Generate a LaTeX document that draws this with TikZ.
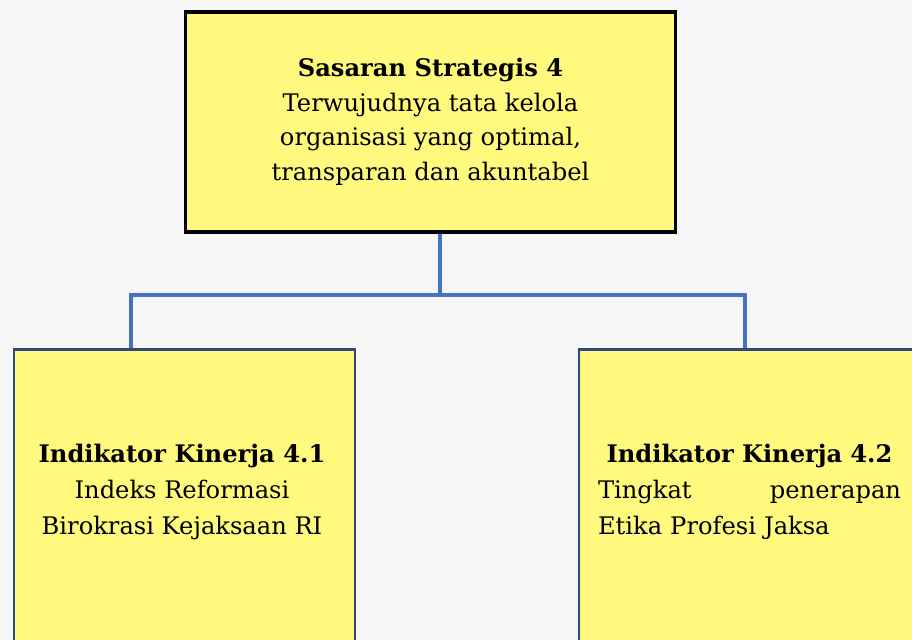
\documentclass[tikz,border=0pt]{standalone}
\usepackage{fontspec}
\setmainfont{DejaVu Serif}

\definecolor{boxyellow}{HTML}{FFFA7D}
\definecolor{linkblue}{HTML}{4472C4}
\definecolor{navy}{HTML}{2E4A7A}
\definecolor{bggray}{HTML}{F6F6F7}

\begin{document}
\begin{tikzpicture}[
    sasaran/.style={draw=black, line width=2.3pt, fill=boxyellow,
        minimum width=12.25cm, minimum height=5.5cm, align=center, inner sep=0pt},
    indikator/.style={draw=navy, line width=2pt, fill=boxyellow,
        minimum width=8.525cm, minimum height=9cm, anchor=north west, inner sep=0pt},
    isi/.style={font=\fontsize{17.2}{24.6}\selectfont, inner sep=0pt},
    link/.style={draw=linkblue, line width=2.2pt}
]

            % page and background
            \useasboundingbox (0,0) rectangle (22.8,-16);
            \clip (0,0) rectangle (22.8,-16);
            \fill[bggray] (0,0) rectangle (22.8,-16);

            % top box
            \node[sasaran, isi] (sasaran) at (10.7625,-3.05)
                {\textbf{Sasaran Strategis 4}\\ Terwujudnya tata kelola\\
                 organisasi yang optimal,\\ transparan dan akuntabel};

            % lower boxes
            \node[indikator] (ind1) at (0.3125,-8.7125) {};
            \node[indikator] (ind2) at (14.4375,-8.7125) {};

            \node[isi, align=center, font=\fontsize{17.2}{25.8}\selectfont] (ind1txt) at (4.55,-12.3)
                {\textbf{Indikator Kinerja 4.1}\\ Indeks Reformasi\\ Birokrasi Kejaksaan RI};
            \node[isi, text width=7.575cm, align=left, font=\fontsize{17.2}{25.8}\selectfont] (ind2txt) at (18.7375,-12.3)
                {\centerline{\bfseries Indikator Kinerja 4.2}\\ Tingkat\hfill penerapan\\ Etika Profesi Jaksa};

            % connectors
            \coordinate (jn) at (11.0,-7.375);
            \coordinate (dropL) at (3.275,-7.375);
            \coordinate (dropR) at (18.625,-7.375);

            \draw[link] (sasaran.south -| jn) -- (jn);
            \draw[link] (ind1.north -| dropL) -- (dropL) -- (dropR) -- (ind2.north -| dropR);

\end{tikzpicture}
\end{document}
